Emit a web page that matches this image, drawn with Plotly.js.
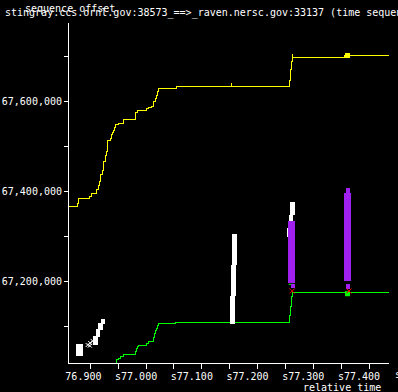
<!DOCTYPE html>
<html>
<head>
<meta charset="utf-8">
<script src="https://cdn.plot.ly/plotly-3.0.1.min.js"></script>
<style>
html,body{margin:0;padding:0;background:#000;}
#chart{width:398px;height:392px;}
#chart .js-line, #chart path.xtick, #chart path.ytick, #chart path.xlines-above, #chart path.ylines-above { shape-rendering: crispEdges; }
</style>
</head>
<body>
<div id="chart"></div>
<script>
// ---- data (relative time in s, sequence offset in bytes) ----
const xTickVals = [76.90, 76.95, 77.00, 77.05, 77.10, 77.15, 77.20, 77.25, 77.30, 77.35, 77.40];
const xTickText = ['\u00a076.900', '', 's77.000', '', 's77.100', '', 's77.200', '', 's77.300', '', 's77.400'];
const yTickVals = [67100000, 67200000, 67300000, 67400000, 67500000, 67600000, 67700000];
const yTickText = ['', '67,200,000', '', '67,400,000', '', '67,600,000', ''];

// receive window (yellow step line)
const winT = [76.8616, 76.8777, 76.8795, 76.8975, 76.9011, 76.9108, 76.9144, 76.9155, 76.9180, 76.9221,
  76.9239, 76.9262, 76.9280, 76.9298, 76.9365, 76.9377, 76.9401, 76.9419, 76.9437, 76.9455,
  76.9496, 76.9586, 76.9808, 76.9837, 77.0006, 77.0047, 77.0096, 77.0125, 77.0161, 77.0179,
  77.0197, 77.0222, 77.0538, 77.2568, 77.2593, 77.2611, 77.2629, 77.3569, 77.4400];
const winV = [67366700, 67372400, 67384400, 67388900, 67394700, 67404400, 67413300, 67421300, 67437800, 67447300,
  67467300, 67479100, 67488900, 67513300, 67516900, 67527300, 67531100, 67535600, 67541300, 67548900,
  67551100, 67560000, 67575600, 67579100, 67584400, 67586700, 67588900, 67599100, 67606700, 67613300,
  67621300, 67628900, 67634000, 67647300, 67669600, 67688000, 67697800, 67700700, 67700700];
// window update ticks (yellow)
const winTickT = [77.1526, 77.2629];
const winTickLo = [67634000, 67697800];
const winTickHi = [67640700, 67705100];
const winBoxT = [77.3614];
const winBoxV = [67701800];

// ack line (green step line)
const ackT = [76.9449, 76.9460, 76.9496, 76.9532, 76.9586, 76.9808, 76.9819, 76.9837, 76.9862, 77.0006,
  77.0042, 77.0089, 77.0125, 77.0155, 77.0173, 77.0191, 77.0204, 77.0222, 77.0533, 77.2568,
  77.2586, 77.2604, 77.2635, 77.2644, 77.4400];
const ackV = [67018450, 67026700, 67028900, 67033300, 67037800, 67043600, 67051100, 67056200, 67058400, 67061300,
  67065800, 67067300, 67075600, 67083600, 67089600, 67095600, 67101300, 67106700, 67108900, 67124400,
  67145100, 67165800, 67174700, 67176200, 67176200];
const sackT = [77.2608, 77.2608, 77.2608];
const sackV = [67211800, 67202900, 67193300];
const ackBoxT = [77.3614];
const ackBoxV = [67172400];

// data segments (white)
const segT  = [77.1553, 77.1567, 77.1584, 77.2626, 77.2599, 77.2577, 76.9095, 76.9140, 76.9185, 76.9230];
const segLo = [67105100, 67167300, 67236200, 67347300, 67318400, 67298400, 67058400, 67076200, 67091800, 67105100];
const segHi = [67167300, 67236200, 67305100, 67376900, 67347300, 67318400, 67078400, 67094000, 67107300, 67116200];
const blobT  = [76.8802];
const blobLo = [67034000];
const blobHi = [67060000];
const hwT = [76.8951, 76.8996, 76.9041, 76.8990];
const hwV = [67058400, 67062900, 67067300, 67057000];

// retransmitted segments (purple)
const rexT  = [77.2617, 77.3608];
const rexLo = [67195600, 67200700];
const rexHi = [67334000, 67396200];
const rexSmallT  = [77.2635, 77.3628, 77.3623];
const rexSmallLo = [67184400, 67396200, 67182200];
const rexSmallHi = [67193300, 67406700, 67193300];

// duplicate-ack / hole marks (red)
const dupT = [77.2622, 77.3641];
const dupV = [67178400, 67178500];

// ---- helpers ----
function segs(t, lo, hi) {
  const x = [], y = [];
  for (let i = 0; i < t.length; i++) { x.push(t[i], t[i], null); y.push(lo[i], hi[i], null); }
  return {x, y};
}
const W = '#ffffff', Y = '#ffff00', G = '#00ff00', P = '#a020f0', R = '#ff0000';
const s1 = segs(segT, segLo, segHi), s2 = segs(blobT, blobLo, blobHi);
const r1 = segs(rexT, rexLo, rexHi), r2 = segs(rexSmallT, rexSmallLo, rexSmallHi);
const wt = segs(winTickT, winTickLo, winTickHi);

const traces = [
  {x: winT, y: winV, mode: 'lines', line: {color: Y, width: 1, shape: 'hv'}},
  {x: wt.x, y: wt.y, mode: 'lines', line: {color: Y, width: 1}},
  {x: winBoxT, y: winBoxV, mode: 'markers', marker: {symbol: 'square', size: 5, color: Y}},
  {x: ackT, y: ackV, mode: 'lines', line: {color: G, width: 1, shape: 'hv'}},
  {x: sackT, y: sackV, mode: 'markers', marker: {symbol: 'line-ew', size: 4, line: {color: G, width: 1}}},
  {x: ackBoxT, y: ackBoxV, mode: 'markers', marker: {symbol: 'square', size: 5, color: G}},
  {x: s1.x, y: s1.y, mode: 'lines', line: {color: W, width: 4.5}},
  {x: s2.x, y: s2.y, mode: 'lines', line: {color: W, width: 7}},
  {x: hwT, y: hwV, mode: 'markers', marker: {symbol: 'x-thin', size: 4, line: {color: W, width: 1}}},
  {x: r1.x, y: r1.y, mode: 'lines', line: {color: P, width: 7}},
  {x: r2.x, y: r2.y, mode: 'lines', line: {color: P, width: 4}},
  {x: dupT, y: dupV, mode: 'markers', marker: {symbol: 'x-thin', size: 5, line: {color: R, width: 1}}}
];

const font = {family: 'DejaVu Sans Mono, monospace', size: 10, color: '#ffffff'};
const layout = {
  width: 398, height: 392,
  margin: {l: 69, r: 9, t: 23, b: 29, pad: 0},
  paper_bgcolor: '#000000', plot_bgcolor: '#000000',
  showlegend: false,
  font: font,
  xaxis: {
    range: [76.8616, 77.4359], showgrid: false, zeroline: false,
    showline: true, linecolor: W, linewidth: 1,
    ticks: 'outside', ticklen: 5, tickcolor: W, tickwidth: 1,
    tickmode: 'array', tickvals: xTickVals, ticktext: xTickText,
    ticklabelshift: -10, ticklabelstandoff: -1, tickfont: font
  },
  yaxis: {
    range: [67018450, 67774000], showgrid: false, zeroline: false,
    showline: true, linecolor: W, linewidth: 1,
    ticks: 'outside', ticklen: 4, tickcolor: W, tickwidth: 1,
    tickmode: 'array', tickvals: yTickVals, ticktext: yTickText,
    tickfont: font
  },
  annotations: [
    {xref: 'paper', yref: 'paper', x: -0.2065, y: 1.0294, xanchor: 'left', yanchor: 'middle', showarrow: false,
     text: 'stingray.ccs.ornl.gov:38573_==>_raven.nersc.gov:33137 (time sequence graph)', font: font},
    {xref: 'paper', yref: 'paper', x: -0.1428, y: 1.0426, xanchor: 'left', yanchor: 'middle', showarrow: false,
     text: 'sequence offset', font: font},
    {xref: 'paper', yref: 'paper', x: 0.98125, y: -0.0706, xanchor: 'right', yanchor: 'middle', showarrow: false,
     text: 'relative time', font: font},
    {xref: 'paper', yref: 'paper', x: 1.0125, y: -0.0338, xanchor: 'left', yanchor: 'middle', showarrow: false,
     text: 's77.500', font: font}
  ]
};
Plotly.newPlot('chart', traces, layout, {staticPlot: true, displayModeBar: false});
</script>
</body>
</html>
